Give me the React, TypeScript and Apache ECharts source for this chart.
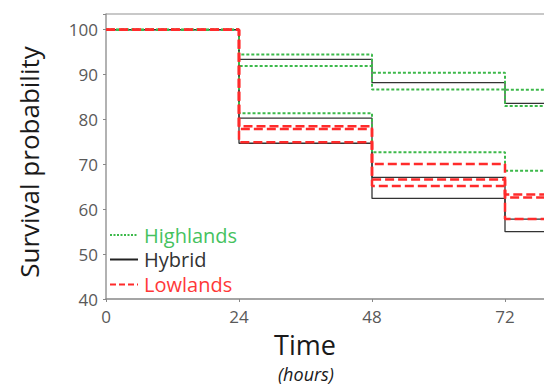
import React, { useEffect, useRef } from "react";
import * as echarts from "echarts";

// Time points (hours) of the Kaplan–Meier steps
const times = [0, 24, 48, 72, 96];
const xTicks = [0, 24, 48, 72, 96];
const xTickLabels = ["0", "24", "48", "72", ""];
const yTicks = [40, 50, 60, 70, 80, 90, 100];

// Highlands curves (green dotted)
const highlandsA = [100, 94.5, 90.4, 86.6, 86.6];
const highlandsB = [100, 91.9, 86.7, 83.0, 83.0];
const highlandsC = [100, 81.4, 72.7, 68.6, 68.6];
// Hybrid curves (black solid)
const hybridA = [100, 93.4, 88.2, 83.6, 83.6];
const hybridB = [100, 80.3, 67.1, 57.8, 57.8];
const hybridC = [100, 74.7, 62.4, 55.0, 55.0];
// Lowlands curves (red dashed)
const lowlandsA = [100, 78.5, 70.1, 63.3, 63.3];
const lowlandsB = [100, 77.9, 66.6, 62.6, 62.6];
const lowlandsC = [100, 74.9, 65.2, 57.8, 57.8];

const legendNames = ["Highlands", "Hybrid", "Lowlands"];

const GREEN = "#3cb94a";
const GREEN_TEXT = "#45c25e";
const BLACK = "#333333";
const RED = "#ff2b2b";
const RED_TEXT = "#ff3838";
const FONT = '"Open Sans", sans-serif';

export default function App() {
  const ref = useRef<HTMLDivElement>(null);

  useEffect(() => {
    if (!ref.current) return;
    const chart = echarts.init(ref.current, undefined, { renderer: "svg" });

    const mk = (name: string, vals: number[], style: any, z: number) => ({
      type: "line",
      name,
      data: times.map((t, i) => [t, vals[i]]),
      step: "end",
      symbol: "none",
      silent: true,
      z,
      lineStyle: style,
    });

    const greenStyle = { color: GREEN, width: 2, type: [3, 2] };
    const blackStyle = { color: BLACK, width: 1.3, type: "solid" };
    const redStyle = { color: RED, width: 2.5, type: [9, 4] };

    const series = [
      mk("Hybrid", hybridA, blackStyle, 2),
      mk("Hybrid", hybridB, blackStyle, 2),
      mk("Hybrid", hybridC, blackStyle, 2),
      mk("Highlands", highlandsA, greenStyle, 3),
      mk("Highlands", highlandsB, greenStyle, 3),
      mk("Highlands", highlandsC, greenStyle, 3),
      mk("Lowlands", lowlandsA, redStyle, 4),
      mk("Lowlands", lowlandsB, redStyle, 4),
      mk("Lowlands", lowlandsC, redStyle, 4),
    ];

    const legendY = [235, 259.5, 284.5];
    const legendStyles = [
      { stroke: GREEN, lineWidth: 2, lineDash: [2, 1.5] },
      { stroke: "#222", lineWidth: 2 },
      { stroke: RED, lineWidth: 2, lineDash: [6, 3] },
    ];
    const legendColors = [GREEN_TEXT, "#333333", RED_TEXT];

    const graphic: any[] = [
      {
        type: "line",
        shape: { x1: 106, y1: 14, x2: 544, y2: 14 },
        style: { stroke: "#c8c8c8", lineWidth: 2 },
        silent: true,
      },
      {
        type: "text",
        x: 29,
        y: 162,
        rotation: Math.PI / 2,
        style: {
          text: "Survival probability",
          align: "center",
          verticalAlign: "middle",
          fontSize: 26,
          fontFamily: FONT,
          fill: "#1a1a1a",
        },
      },
      {
        type: "text",
        x: 305,
        y: 344,
        style: {
          text: "Time",
          align: "center",
          verticalAlign: "middle",
          fontSize: 27,
          fontFamily: FONT,
          fill: "#1a1a1a",
        },
      },
      {
        type: "text",
        x: 306,
        y: 374,
        style: {
          text: "(hours)",
          align: "center",
          verticalAlign: "middle",
          fontSize: 18,
          fontStyle: "italic",
          fontFamily: FONT,
          fill: "#1a1a1a",
        },
      },
    ];
    legendNames.forEach((n, i) => {
      graphic.push({
        type: "line",
        shape: { x1: 110, y1: legendY[i], x2: 138, y2: legendY[i] },
        style: legendStyles[i],
        silent: true,
      });
      graphic.push({
        type: "text",
        x: 144,
        y: legendY[i],
        style: {
          text: n,
          verticalAlign: "middle",
          fontSize: 20,
          fontFamily: FONT,
          fill: legendColors[i],
        },
      });
    });

    chart.setOption({
      animation: false,
      grid: {
        left: 106,
        top: 14,
        width: 532,
        height: 285,
        outerBoundsMode: "none",
        containLabel: false,
      },
      xAxis: {
        type: "value",
        min: xTicks[0],
        max: xTicks[xTicks.length - 1],
        interval: 24,
        axisLine: { lineStyle: { color: "#888", width: 1.5 } },
        axisTick: { length: 3, lineStyle: { color: "#888" } },
        splitLine: { show: false },
        axisLabel: {
          margin: 9,
          fontSize: 17,
          fontFamily: FONT,
          color: "#595959",
          formatter: (v: number) => {
            const i = xTicks.indexOf(v);
            return i >= 0 ? xTickLabels[i] : "";
          },
        },
      },
      yAxis: {
        type: "value",
        min: yTicks[0],
        max: 103.5,
        interval: 10,
        axisLine: { show: true, lineStyle: { color: "#999", width: 1.5 } },
        axisTick: { show: true, length: 3, lineStyle: { color: "#888" } },
        splitLine: { show: false },
        axisLabel: {
          margin: 8,
          fontSize: 17,
          fontFamily: FONT,
          color: "#595959",
          formatter: (v: number) => (yTicks.includes(v) ? String(v) : ""),
        },
      },
      series,
      graphic,
    });

    return () => chart.dispose();
  }, []);

  return (
    <div
      ref={ref}
      style={{ position: "absolute", left: 0, top: 0, width: 544, height: 387 }}
    />
  );
}
